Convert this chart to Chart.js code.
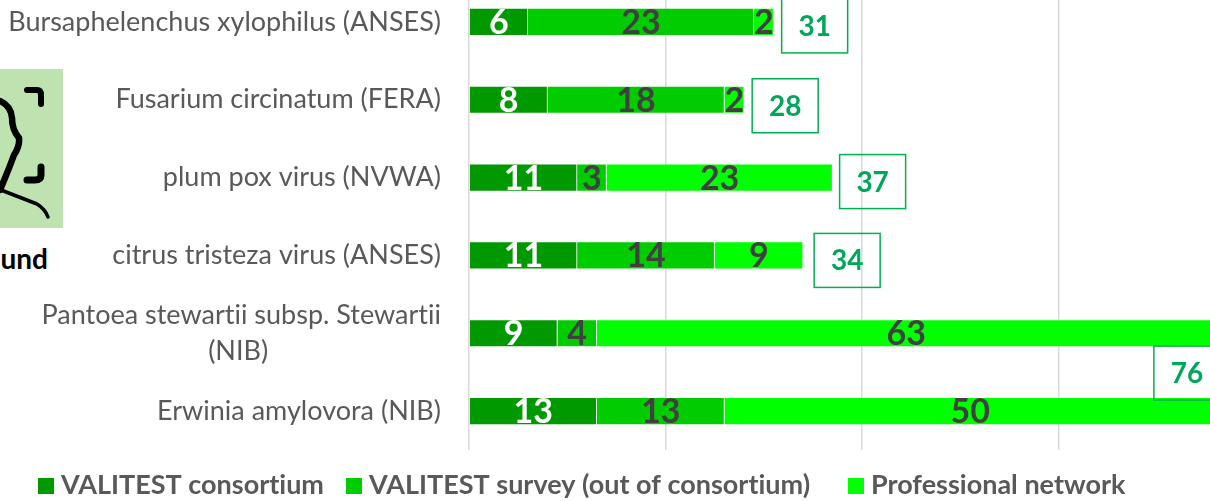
<!DOCTYPE html>
<html>
<head>
<meta charset="utf-8">
<title>VALITEST</title>
<script src="https://cdn.jsdelivr.net/npm/chart.js@4"></script>
<style>
html, body { margin: 0; padding: 0; background: #fff; overflow: hidden; width: 1210px; height: 501px; }
#chart1 { position: absolute; left: 0; top: -40px; }
#face { position: absolute; left: 0; top: 69px; }
#round { position: absolute; right: 1162px; top: 241px; font: bold 28px Lato, sans-serif; color: #000; }
</style>
</head>
<body>
<svg id="face" width="63" height="159" viewBox="0 69 63 159">
    <rect x="0" y="69" width="63" height="159" fill="#BFE3B0"/>
    <g fill="none" stroke="#000" stroke-linecap="round" stroke-linejoin="round">
        <path d="M27 90 H37 Q41 90 41 95 V104" stroke-width="6"/>
        <path d="M41 167 V175 Q41 180 35 180 H27" stroke-width="7"/>
        <path d="M0 101 Q11 106 12 118 Q12 130 19 138 Q20 146 14 155 Q10 166 5 178 L0 190" stroke-width="6.5"/>
        <path d="M1 190 L37 204 Q45 209 48 217" stroke-width="3.5"/>
    </g>
</svg>
<div id="round">und</div>
<canvas id="chart1" width="1210" height="541"></canvas>
<script>
const categories = [
    "Bursaphelenchus xylophilus (ANSES)",
    "Fusarium circinatum (FERA)",
    "plum pox virus (NVWA)",
    "citrus tristeza virus (ANSES)",
    ["Pantoea stewartii subsp. Stewartii", "(NIB)" + "\u00a0".repeat(25)],
    "Erwinia amylovora (NIB)"
];
const consortium = [6, 8, 11, 11, 9, 13];
const survey = [23, 18, 3, 14, 4, 13];
const network = [2, 2, 23, 9, 63, 50];
const totals = [31, 28, 37, 34, null, 76];

// where each total box sits, relative to the end of its bar
const box_shift = [[8, 4], [8, 6], [7, 4], [11, 5], [0, 0], [-62, -38]];
// left edge of each legend square
const legend_x = [38, 346, 848];

const no_ligatures = {
    id: "no_ligatures",
    beforeDraw(chart) {
        chart.ctx.textRendering = "optimizeSpeed";
    }
};

const bar_labels = {
    id: "bar_labels",
    afterDatasetsDraw(chart) {
        const ctx = chart.ctx;
        ctx.save();
        ctx.textAlign = "center";
        ctx.textBaseline = "middle";
        chart.data.datasets.forEach((ds, d) => {
            chart.getDatasetMeta(d).data.forEach((bar, i) => {
                ctx.font = "bold 34px Lato";
                ctx.fillStyle = d == 0 ? "#ffffff" : "#404040";
                ctx.fillText(ds.data[i], (bar.x + bar.base) / 2, bar.y + 1);
            });
        });
        // boxes with the totals
        const x = chart.scales.x;
        const y = chart.scales.y;
        totals.forEach((total, i) => {
            if (total == null) return;
            const left = x.getPixelForValue(total) + box_shift[i][0];
            const mid = y.getPixelForValue(i) + box_shift[i][1];
            ctx.strokeStyle = "#00B050";
            ctx.lineWidth = 1.5;
            ctx.strokeRect(left, mid - 27, 66, 54);
            ctx.font = "bold 28px Lato";
            ctx.fillStyle = "#00A65A";
            ctx.fillText(total, left + 33, mid + 1);
        });
        // legend, same names and colours as the datasets
        ctx.textAlign = "left";
        ctx.font = "bold 27px Lato";
        chart.data.datasets.forEach((ds, d) => {
            ctx.fillStyle = ds.backgroundColor;
            ctx.fillRect(legend_x[d], 518, 16, 16);
            ctx.fillStyle = "#595959";
            ctx.fillText(ds.label, legend_x[d] + 23, 525);
        });
        ctx.restore();
    }
};

function make_dataset(label, values, colour) {
    return {
        label: label,
        data: values,
        backgroundColor: colour,
        borderColor: "rgba(255, 255, 255, 0.25)",
        borderWidth: 0.75,
        barPercentage: 0.355,
        categoryPercentage: 1
    };
}

new Chart(document.getElementById("chart1"), {
    type: "bar",
    data: {
        labels: categories,
        datasets: [
            make_dataset("VALITEST consortium", consortium, "#009900"),
            make_dataset("VALITEST survey (out of consortium)", survey, "#00CC00"),
            make_dataset("Professional network", network, "#00FF00")
        ]
    },
    options: {
        indexAxis: "y",
        responsive: false,
        animation: { duration: 0 },
        layout: { padding: { left: 10, top: 23, right: 0, bottom: 51 } },
        plugins: {
            tooltip: { enabled: false },
            legend: { display: false }
        },
        scales: {
            x: {
                stacked: true,
                min: 0,
                max: 75.4,
                afterBuildTicks: (scale) => {
                    scale.ticks = [0, 20, 40, 60].map((v) => ({ value: v }));
                },
                grid: { color: "#D9D9D9", lineWidth: 1.5, tickLength: 0 },
                border: { display: false },
                ticks: { display: false }
            },
            y: {
                stacked: true,
                afterFit: (scale) => {
                    scale.width = 459;
                    scale.paddingTop = 0;
                    scale.paddingBottom = 0;
                },
                grid: { display: false },
                border: { display: false },
                ticks: {
                    padding: 20,
                    autoSkip: false,
                    color: "#595959",
                    font: { family: "Lato", size: 27, lineHeight: 1.35 }
                }
            }
        }
    },
    plugins: [no_ligatures, bar_labels]
});
</script>
</body>
</html>
